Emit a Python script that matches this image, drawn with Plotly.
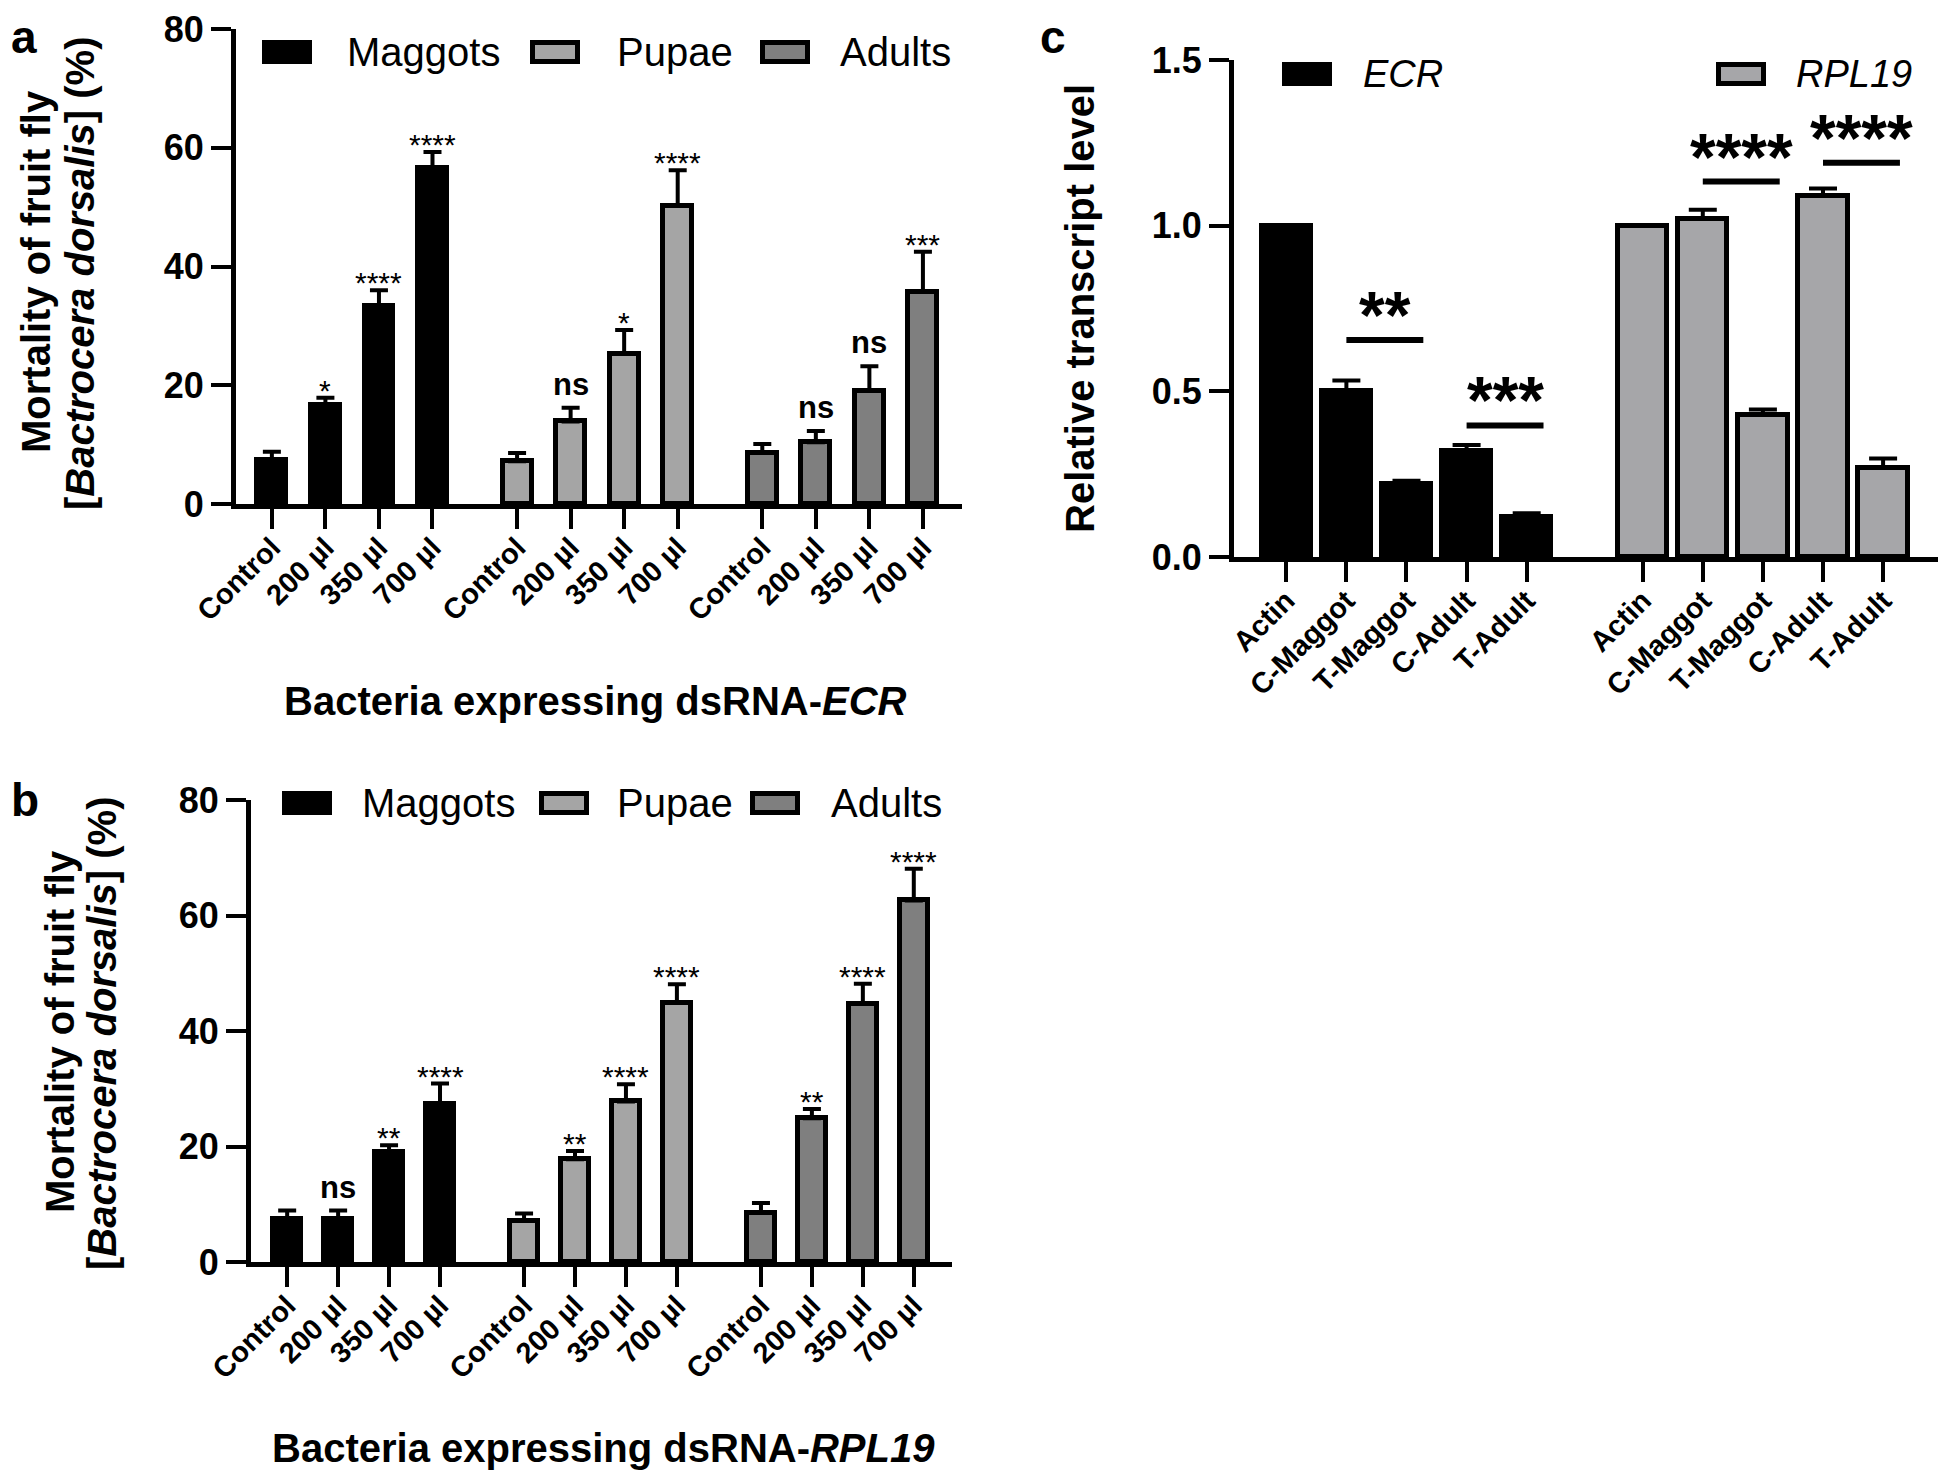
import plotly.graph_objects as go

W, H = 1946, 1476
OFF = 8  # default <body> margin of the written page
FONT = "Arial, Liberation Sans, sans-serif"

# ---------------- data ----------------
doses = ["Control", "200 µl", "350 µl", "700 µl"]
stages = ["Maggots", "Pupae", "Adults"]

# Panel a: bacteria expressing dsRNA-ECR (mortality %)
a_maggots = [7.4, 16.6, 33.3, 56.6]
a_maggots_err = [1.4, 1.3, 2.7, 2.7]
a_pupae = [7.2, 13.9, 25.3, 50.2]
a_pupae_err = [1.4, 2.3, 4.0, 6.0]
a_adults = [8.6, 10.4, 19.1, 35.7]
a_adults_err = [1.5, 1.9, 4.1, 6.8]
a_sig_maggots = ["", "*", "****", "****"]
a_sig_pupae = ["", "ns", "*", "****"]
a_sig_adults = ["", "ns", "ns", "***"]

# Panel b: bacteria expressing dsRNA-RPL19 (mortality %)
b_maggots = [7.45, 7.45, 19.1, 27.3]
b_maggots_err = [1.45, 1.45, 1.1, 3.6]
b_pupae = [7.1, 17.8, 27.8, 44.9]
b_pupae_err = [1.3, 1.4, 3.0, 3.2]
b_adults = [8.5, 24.9, 44.7, 62.6]
b_adults_err = [1.7, 1.6, 3.5, 5.5]
b_sig_maggots = ["", "ns", "**", "****"]
b_sig_pupae = ["", "**", "****", "****"]
b_sig_adults = ["", "**", "****", "****"]

# Panel c: relative transcript level
c_samples = ["Actin", "C-Maggot", "T-Maggot", "C-Adult", "T-Adult"]
c_ecr = [1.0, 0.50, 0.22, 0.32, 0.12]
c_ecr_err = [0, 0.033, 0.010, 0.018, 0.012]
c_rpl19 = [1.0, 1.02, 0.43, 1.09, 0.27]
c_rpl19_err = [0, 0.028, 0.015, 0.022, 0.027]
# significance brackets: gene, first sample index, label, bracket level
c_sig_gene = ["ECR", "ECR", "RPL19", "RPL19"]
c_sig_i = [1, 3, 1, 3]
c_sig_label = ["**", "***", "****", "****"]
c_sig_level = [0.655, 0.397, 1.133, 1.19]

# ---------------- helpers ----------------
def px(x):
    return (x - OFF) / W


def py(y):
    return 1 - (y - OFF) / H


stage_colors = ["#000000", "#a5a5a5", "#7f7f7f"]

fig = go.Figure()
annotations = []
shapes = []


def err_list(e):
    return [v if v else None for v in e]


def mortality_panel(xa, ya, series, errs, sigs, gap, bw):
    tickvals, ticktext = [], []
    for g, (vals, er, sg) in enumerate(zip(series, errs, sigs)):
        xs = [g * (4 + gap) + i for i in range(4)]
        tickvals += xs
        ticktext += doses
        fig.add_trace(go.Bar(
            x=xs, y=vals, width=bw, xaxis=xa, yaxis=ya, showlegend=False,
            marker=dict(color=stage_colors[g], line=dict(color="black", width=5)),
            error_y=dict(type="data", symmetric=False, array=err_list(er),
                         arrayminus=[0] * 4, color="black", thickness=4, width=9),
        ))
        for x, v, e, s in zip(xs, vals, er, sg):
            if not s:
                continue
            if s == "ns":
                annotations.append(dict(x=x, y=v + e, xref=xa, yref=ya, text="<b>ns</b>",
                                        showarrow=False, yanchor="bottom", yshift=4,
                                        font=dict(family=FONT, size=31, color="black")))
            else:
                annotations.append(dict(x=x, y=v + e, xref=xa, yref=ya, text=s,
                                        showarrow=False, yanchor="bottom", yshift=-11,
                                        font=dict(family=FONT, size=30, color="black")))
    return tickvals, ticktext


axis_common = dict(showline=True, linewidth=5, linecolor="black", ticks="outside",
                   tickwidth=4, tickcolor="black", ticklen=20, showgrid=False,
                   zeroline=False, fixedrange=True, automargin=False,
                   ticklabeloverflow="allow")

# Panel a
gap_a = 0.58
tv_a, tt_a = mortality_panel("x", "y", [a_maggots, a_pupae, a_adults],
                             [a_maggots_err, a_pupae_err, a_adults_err],
                             [a_sig_maggots, a_sig_pupae, a_sig_adults], gap_a, 0.54)
# Panel b
gap_b = 0.65
tv_b, tt_b = mortality_panel("x2", "y2", [b_maggots, b_pupae, b_adults],
                             [b_maggots_err, b_pupae_err, b_adults_err],
                             [b_sig_maggots, b_sig_pupae, b_sig_adults], gap_b, 0.55)

# Panel c
gap_c = 0.93
x_ecr = [i for i in range(5)]
x_rpl = [5 + gap_c + i for i in range(5)]
fig.add_trace(go.Bar(x=x_ecr, y=c_ecr, width=0.82, xaxis="x3", yaxis="y3", showlegend=False,
                     marker=dict(color="#000000", line=dict(color="black", width=5)),
                     error_y=dict(type="data", symmetric=False, array=err_list(c_ecr_err),
                                  arrayminus=[0] * 5, color="black", thickness=4, width=14)))
fig.add_trace(go.Bar(x=x_rpl, y=c_rpl19, width=0.82, xaxis="x3", yaxis="y3", showlegend=False,
                     marker=dict(color="#a6a6a9", line=dict(color="black", width=5)),
                     error_y=dict(type="data", symmetric=False, array=err_list(c_rpl19_err),
                                  arrayminus=[0] * 5, color="black", thickness=4, width=14)))
for gene, i, lab, lev in zip(c_sig_gene, c_sig_i, c_sig_label, c_sig_level):
    xs = x_ecr if gene == "ECR" else x_rpl
    mid = (xs[i] + xs[i + 1]) / 2 + 0.14
    shapes.append(dict(type="line", xref="x3", yref="y3", x0=mid - 0.64, x1=mid + 0.64,
                       y0=lev, y1=lev, line=dict(color="black", width=6)))
    annotations.append(dict(x=mid, y=lev, xref="x3", yref="y3", text="<b>" + lab + "</b>",
                            showarrow=False, yanchor="bottom", yshift=-14,
                            font=dict(family=FONT, size=66, color="black")))

tick_font = dict(family=FONT, size=36, color="black", weight="bold")
xtick_font = dict(family=FONT, size=29, color="black", weight="bold")

fig.update_layout(
    xaxis=dict(domain=[px(236), px(962)], range=[-0.67, 2 * (4 + gap_a) + 3 + 0.73], anchor="y",
               tickvals=tv_a, ticktext=tt_a, tickangle=-45, tickfont=xtick_font,
               ticklabelstandoff=-10, **axis_common),
    yaxis=dict(domain=[py(504), py(29)], range=[0, 80], anchor="x", tickvals=[0, 20, 40, 60, 80],
               tickfont=tick_font, **axis_common),
    xaxis2=dict(domain=[px(251), px(952)], range=[-0.71, 2 * (4 + gap_b) + 3 + 0.75], anchor="y2",
                tickvals=tv_b, ticktext=tt_b, tickangle=-45, tickfont=xtick_font,
                ticklabelstandoff=-10, **axis_common),
    yaxis2=dict(domain=[py(1262), py(800)], range=[0, 80], anchor="x2", tickvals=[0, 20, 40, 60, 80],
                tickfont=tick_font, **axis_common),
    xaxis3=dict(domain=[px(1234), px(1942)], range=[-0.87, x_rpl[-1] + 0.98], anchor="y3",
                tickvals=x_ecr + x_rpl, ticktext=c_samples + c_samples, tickangle=-45,
                tickfont=xtick_font, ticklabelstandoff=-10, **axis_common),
    yaxis3=dict(domain=[py(557), py(60)], range=[0, 1.5], anchor="x3", tickvals=[0, 0.5, 1.0, 1.5],
                tickformat=".1f", tickfont=tick_font, **axis_common),
)

# ---------------- legends (drawn manually) ----------------
def legend(items, ycen, size, italic=False):
    for (bx, tx, col, name) in items:
        shapes.append(dict(type="rect", xref="paper", yref="paper",
                           x0=px(bx + 2.5), x1=px(bx + 50 - 2.5),
                           y0=py(ycen + 12 - 2.5), y1=py(ycen - 12 + 2.5),
                           fillcolor=col, line=dict(color="black", width=5)))
        txt = "<i>" + name + "</i>" if italic else name
        annotations.append(dict(x=px(tx), y=py(ycen), xref="paper", yref="paper", text=txt,
                                showarrow=False, xanchor="left", yanchor="middle",
                                font=dict(family=FONT, size=size, color="black")))


legend([(262, 345, stage_colors[0], stages[0]), (530, 615, stage_colors[1], stages[1]),
        (760, 838, stage_colors[2], stages[2])], 52, 40)
legend([(282, 360, stage_colors[0], stages[0]), (539, 615, stage_colors[1], stages[1]),
        (750, 829, stage_colors[2], stages[2])], 803, 40)
legend([(1282, 1361, "#000000", "ECR"), (1716, 1794, "#a6a6a9", "RPL19")], 74, 38, italic=True)

# ---------------- titles & panel labels ----------------
def text(x, y, t, size, angle=0, bold=True, xanchor="center", yanchor="middle"):
    annotations.append(dict(x=px(x), y=py(y), xref="paper", yref="paper",
                            text="<b>" + t + "</b>" if bold else t, showarrow=False,
                            textangle=angle, xanchor=xanchor, yanchor=yanchor,
                            font=dict(family=FONT, size=size, color="black")))


text(36, 272, "Mortality of fruit fly", 40, -90)
text(80, 274, "[<i>Bactrocera dorsalis</i>] (%)", 40, -90)
text(595, 701, "Bacteria expressing dsRNA-<i>ECR</i>", 40)

text(60, 1032, "Mortality of fruit fly", 40, -90)
text(102, 1034, "[<i>Bactrocera dorsalis</i>] (%)", 40, -90)
text(603, 1448, "Bacteria expressing dsRNA-<i>RPL19</i>", 40)

text(1080, 309, "Relative transcript level", 40, -90)

# panel letters, kept fully inside the page
text(OFF + 1, OFF + 1, "a", 46, xanchor="left", yanchor="top")
text(OFF + 1, 772, "b", 46, xanchor="left", yanchor="top")
text(1038, OFF + 1, "c", 46, xanchor="left", yanchor="top")

fig.update_layout(template="none", width=W, height=H, margin=dict(l=0, r=0, t=0, b=0, autoexpand=False),
                  plot_bgcolor="white", paper_bgcolor="white",
                  annotations=annotations, shapes=shapes, bargap=0, showlegend=False)

fig.write_html("out.html")
